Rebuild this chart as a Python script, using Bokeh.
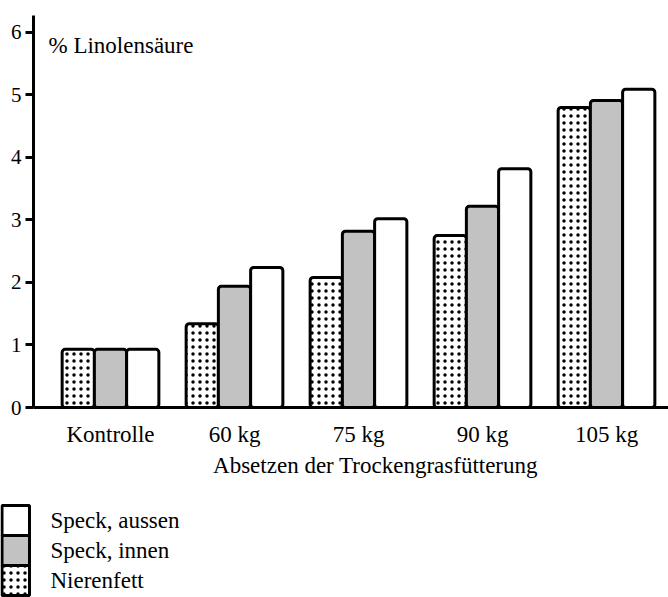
from bokeh.plotting import figure
from bokeh.models import Range1d, FixedTicker, Label, ColumnDataSource
from bokeh.layouts import column
from bokeh.transform import dodge
from bokeh.embed import file_html
from bokeh.resources import INLINE
from bokeh.core.properties import value

# ---- data ----
categories = ["Kontrolle", "60 kg", "75 kg", "90 kg", "105 kg"]
nierenfett = [0.93, 1.34, 2.08, 2.75, 4.80]
speck_innen = [0.93, 1.94, 2.82, 3.22, 4.91]
speck_aussen = [0.93, 2.24, 3.02, 3.82, 5.09]
y_ticks = [0, 1, 2, 3, 4, 5, 6]
legend_order = ["Speck, aussen", "Speck, innen", "Nierenfett"]
y_title = "% Linolensäure"
x_title = "Absetzen der Trockengrasfütterung"

FONT = "Liberation Serif"
FS = "23px"
styles = {
    "Nierenfett": dict(fill_color="white", hatch_pattern="dot", hatch_color="black",
                       hatch_scale=7, hatch_weight=2.4),
    "Speck, innen": dict(fill_color="#c2c2c2"),
    "Speck, aussen": dict(fill_color="white"),
}

xs = list(range(len(categories)))
src = ColumnDataSource(dict(x=xs, n=nierenfett, i=speck_innen, a=speck_aussen))

p = figure(width=668, height=450, output_backend="svg", toolbar_location=None,
           x_range=Range1d(-0.621, 4.5), y_range=Range1d(0, 6.27),
           min_border_left=33, min_border_right=0, min_border_top=15,
           min_border_bottom=43)
p.frame_align = False
p.outline_line_color = None
p.grid.visible = False

bw = 0.26
for col, name, off in [("n", "Nierenfett", -bw), ("i", "Speck, innen", 0.0), ("a", "Speck, aussen", bw)]:
    p.vbar(x=dodge("x", off), top=col, width=bw, bottom=0, source=src,
           line_color="black", line_width=3, border_radius=3, **styles[name])

# y axis
ya = p.yaxis[0]
ya.ticker = FixedTicker(ticks=y_ticks)
ya.axis_line_width = 3
ya.major_tick_line_width = 3
ya.major_tick_out = 8
ya.major_tick_in = 0
ya.minor_tick_line_color = None
ya.major_label_standoff = 4
ya.major_label_text_font = FONT
ya.major_label_text_font_size = "21px"
ya.major_label_text_color = "black"

# x axis
xa = p.xaxis[0]
xa.ticker = FixedTicker(ticks=xs)
xa.major_label_overrides = {i: c for i, c in zip(xs, categories)}
xa.axis_line_width = 3
xa.major_tick_line_color = None
xa.minor_tick_line_color = None
xa.major_label_standoff = 8
xa.major_label_text_font = FONT
xa.major_label_text_font_size = FS
xa.major_label_text_color = "black"

p.add_layout(Label(x=15, y=362, x_units="screen", y_units="screen", text=y_title,
                   text_font=FONT, text_font_size=FS, text_baseline="middle",
                   text_color="black"))

# ---- legend / title panel ----
q = figure(width=668, height=147, output_backend="svg", toolbar_location=None,
           x_range=Range1d(0, 668), y_range=Range1d(147, 0),
           x_axis_type=None, y_axis_type=None, min_border=0)
q.frame_align = False
q.grid.visible = False
q.outline_line_color = None

q.text(x=[375], y=[15], text=[x_title], text_font=value(FONT), text_font_size=FS,
       text_align="center", text_baseline="middle", text_color="black")

box_h = 30
top0 = 55
for k, name in enumerate(legend_order):
    y0 = top0 + k * box_h
    q.quad(left=[1.5], right=[29], top=[y0], bottom=[y0 + box_h],
           line_color="black", line_width=3, **styles[name])
    q.text(x=[50], y=[y0 + box_h / 2], text=[name], text_font=value(FONT),
           text_font_size=FS, text_baseline="middle", text_color="black")

layout = column(p, q, spacing=0)
open("out.html", "w").write(file_html(layout, INLINE))
